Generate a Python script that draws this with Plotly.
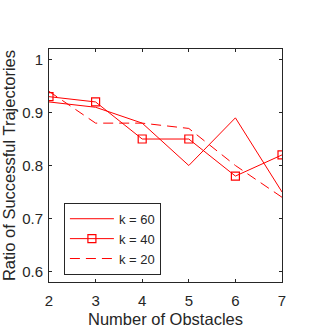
import plotly.graph_objects as go

obstacles = [2, 3, 4, 5, 6, 7]
k60 = [0.92, 0.91, 0.88, 0.80, 0.89, 0.75]
k40 = [0.93, 0.92, 0.85, 0.85, 0.78, 0.82]
k20 = [0.94, 0.88, 0.88, 0.87, 0.80, 0.74]

red = "#ff0000"
txt = "#262626"
font = "Liberation Sans, Arial, sans-serif"

fig = go.Figure()
fig.add_trace(go.Scatter(x=obstacles, y=k60, mode="lines", name="k = 60",
                         line=dict(color=red, width=1)))
fig.add_trace(go.Scatter(x=obstacles, y=k40, mode="lines+markers", name="k = 40",
                         line=dict(color=red, width=1),
                         marker=dict(symbol="square-open", size=8, color=red, line=dict(width=1.2))))
fig.add_trace(go.Scatter(x=obstacles, y=k20, mode="lines", name="k = 20",
                         line=dict(color=red, width=1, dash="10px,6px")))

axis = dict(showline=True, linecolor=txt, linewidth=1, mirror="ticks", ticks="inside",
            ticklen=3, tickcolor=txt, showgrid=False, zeroline=False, automargin=False,
            tickfont=dict(family=font, size=15, color=txt))

fig.update_layout(
    width=332, height=332,
    margin=dict(l=49, r=50, t=49, b=50),
    paper_bgcolor="white", plot_bgcolor="white",
    showlegend=True,
    legend=dict(x=0.064, y=0.34, xanchor="left", yanchor="top",
                bordercolor=txt, borderwidth=1, bgcolor="white",
                font=dict(family=font, size=13, color=txt),
                tracegroupgap=0, itemwidth=44),
    font=dict(family=font, color=txt),
)
fig.update_xaxes(range=[2, 7], tickvals=obstacles, ticklabelstandoff=5, **axis,
                 title=dict(text="Number of Obstacles", font=dict(family=font, size=16.5, color=txt), standoff=5))
fig.update_yaxes(range=[0.58, 1.02], tickvals=[0.6, 0.7, 0.8, 0.9, 1.0],
                 ticktext=["0.6", "0.7", "0.8", "0.9", "1"], ticklabelstandoff=2, **axis,
                 title=dict(text="Ratio of Successful Trajectories", font=dict(family=font, size=16.5, color=txt), standoff=2))

fig.write_html("out.html", config={"displayModeBar": False},
               post_script="document.body.style.margin='0';")
